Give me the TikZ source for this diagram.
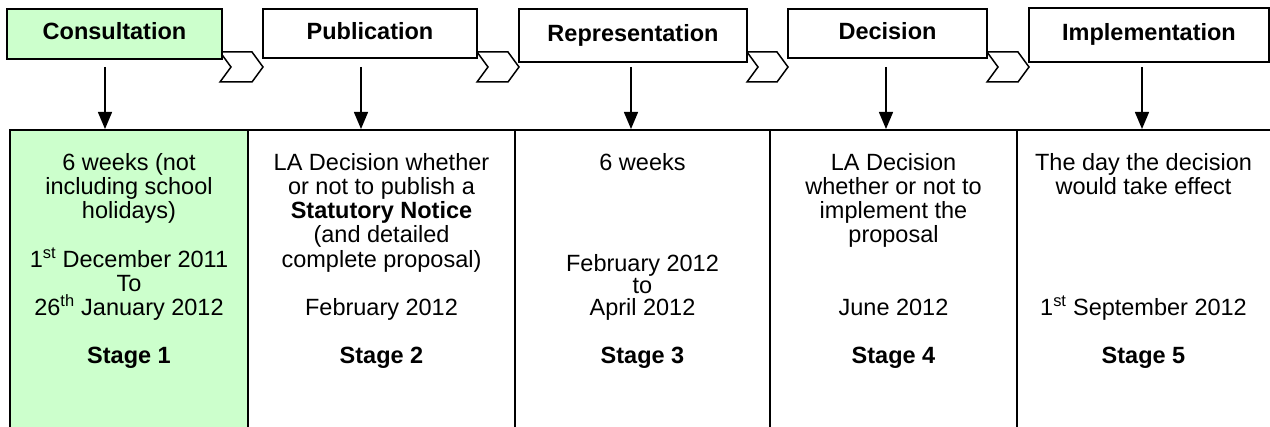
\documentclass[tikz,border=0pt]{standalone}
\usepackage{fontspec}
\setmainfont{Liberation Sans}
\usetikzlibrary{arrows.meta}
\definecolor{cgreen}{RGB}{204,255,204}
\newcommand{\chevshape}[2]{\draw[chevron] (#1,52) -- ({#2-11},52) -- (#2,67) -- ({#2-11},82) -- (#1,82) -- ({#1+11},67) -- cycle;}
\begin{document}
\begin{tikzpicture}[x=1pt,y=-1pt,
  hdr/.style={draw=black,line width=1.5pt,inner sep=0pt,
    font=\bfseries\fontsize{23.5}{26}\selectfont,text height=17pt,text depth=5pt},
  chevron/.style={draw=black,line width=1.5pt,fill=white,line join=miter},
  tbl/.style={line width=2pt},
  arr/.style={line width=1.4pt,-{Triangle[length=17pt,width=14pt]}},
  txt/.style={anchor=base,inner sep=0pt,font=\fontsize{23.5}{26}\selectfont},
  btxt/.style={txt,font=\bfseries\fontsize{23.5}{26}\selectfont}]
\useasboundingbox (0,0) rectangle (1270,427);
% table
\fill[cgreen] (10,130) rectangle (248,430);
\draw[tbl] (9,130) -- (1271,130);
\foreach \xx in {10,248,515,770,1017} \draw[tbl] (\xx,130) -- (\xx,430);
% chevrons
\chevshape{220}{263}
\chevshape{477}{519}
\chevshape{747}{788}
\chevshape{987}{1029}
% header boxes
\node[hdr,fill=cgreen,minimum width=215pt,minimum height=50pt] (b1) at (114.5,34) {Consultation};
\node[hdr,fill=white,minimum width=214pt,minimum height=49pt] (b2) at (370,33.5) {Publication};
\node[hdr,fill=white,minimum width=228pt,minimum height=53pt] (b3) at (633,35.5) {Representation};
\node[hdr,fill=white,minimum width=199pt,minimum height=49pt] (b4) at (887.5,33.5) {Decision};
\node[hdr,fill=white,minimum width=240pt,minimum height=54pt] (b5) at (1149,35) {Implementation};
% arrows
\coordinate (a1s) at (105,67);  \coordinate (a1e) at (105,129);
\coordinate (a2s) at (361,67);  \coordinate (a2e) at (361,129);
\coordinate (a3s) at (631,67);  \coordinate (a3e) at (631,129);
\coordinate (a4s) at (886,67);  \coordinate (a4e) at (886,129);
\coordinate (a5s) at (1142,67); \coordinate (a5e) at (1142,129);
\foreach \i in {1,...,5} \draw[arr] (a\i s) -- (a\i e);
% column 1
\node[txt] (c1a) at (129,171) {6 weeks (not};
\node[txt] (c1b) at (129,195) {including school};
\node[txt] (c1c) at (129,219) {holidays)};
\node[txt] (c1d) at (129,268) {1\textsuperscript{st} December 2011};
\node[txt] (c1e) at (129,292) {To};
\node[txt] (c1f) at (129,316) {26\textsuperscript{th} January 2012};
\node[btxt] (c1g) at (129,364) {Stage 1};
% column 2
\node[txt] (c2a) at (381.5,171) {LA Decision whether};
\node[txt] (c2b) at (381.5,195) {or not to publish a};
\node[btxt] (c2c) at (381.5,219) {Statutory Notice};
\node[txt] (c2d) at (381.5,243) {(and detailed};
\node[txt] (c2e) at (381.5,268) {complete proposal)};
\node[txt] (c2f) at (381.5,316) {February 2012};
\node[btxt] (c2g) at (381.5,364) {Stage 2};
% column 3
\node[txt] (c3a) at (642.5,171) {6 weeks};
\node[txt] (c3b) at (642.5,272) {February 2012};
\node[txt] (c3c) at (642.5,294) {to};
\node[txt] (c3d) at (642.5,316) {April 2012};
\node[btxt] (c3e) at (642.5,364) {Stage 3};
% column 4
\node[txt] (c4a) at (893.5,171) {LA Decision};
\node[txt] (c4b) at (893.5,195) {whether or not to};
\node[txt] (c4c) at (893.5,219) {implement the};
\node[txt] (c4d) at (893.5,243) {proposal};
\node[txt] (c4e) at (893.5,316) {June 2012};
\node[btxt] (c4f) at (893.5,364) {Stage 4};
% column 5
\node[txt] (c5a) at (1143.5,171) {The day the decision};
\node[txt] (c5b) at (1143.5,195) {would take effect};
\node[txt] (c5c) at (1143.5,316) {1\textsuperscript{st} September 2012};
\node[btxt] (c5d) at (1143.5,364) {Stage 5};
\end{tikzpicture}
\end{document}
